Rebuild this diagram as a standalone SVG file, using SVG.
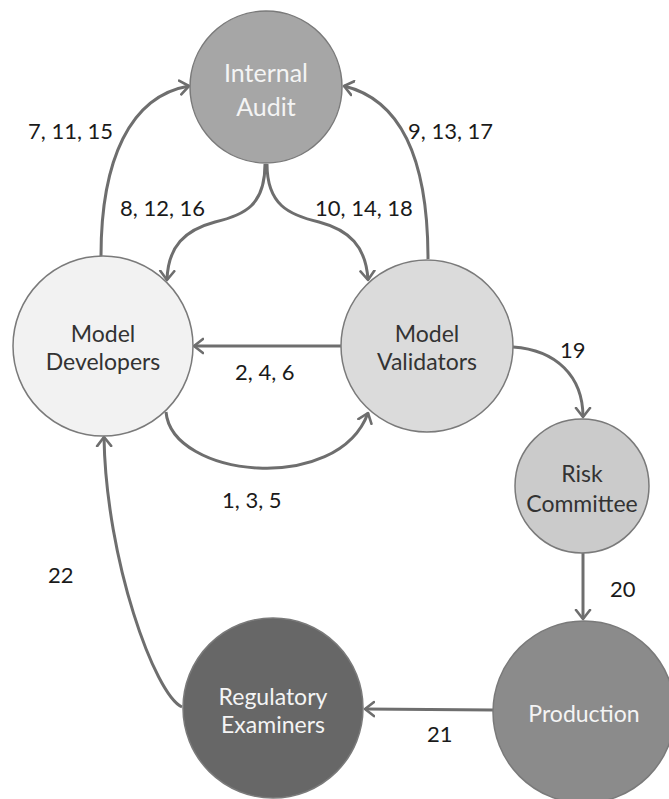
<svg xmlns="http://www.w3.org/2000/svg" width="669" height="799" viewBox="0 0 669 799">
  <style>
    .node { stroke: #7a7a7a; stroke-width: 1.5; }
    .ntext { font-family: Lato, "Open Sans", "Liberation Sans", sans-serif; font-size: 23px; text-anchor: middle; }
    .dark { fill: #333333; }
    .light { fill: #f4f4f4; }
    .edge { fill: none; stroke: #6e6e6e; stroke-width: 3; marker-end: url(#arrow); }
    .elabel { font-family: Lato, "Open Sans", "Liberation Sans", sans-serif; font-size: 22px; fill: #1a1a1a; }
  </style>
  <defs>
    <marker id="arrow" markerUnits="userSpaceOnUse" markerWidth="16" markerHeight="20" refX="10" refY="8" orient="auto" viewBox="0 0 16 16">
      <path d="M1,1 L10,8 L1,15" fill="none" stroke="#6e6e6e" stroke-width="2.6" stroke-linecap="round" stroke-linejoin="round"/>
    </marker>
  </defs>

  <g id="connectors">
    <!-- 7, 11, 15 : developers to audit -->
    <path class="edge" d="M101,256 C101,160 130,96 189,86"/>
    <!-- 8, 12, 16 : audit to developers -->
    <path class="edge" d="M265,164 C265,205 245,215 215,222 C185,230 168,246 167,280"/>
    <!-- 10, 14, 18 : audit to validators -->
    <path class="edge" d="M267,164 C267,205 289,215 319,222 C349,230 366,246 368,280"/>
    <!-- 9, 13, 17 : validators to audit -->
    <path class="edge" d="M428,259 C428,160 402,100 344,86"/>
    <!-- 2, 4, 6 : validators to developers -->
    <path class="edge" d="M341,346 L194,346"/>
    <!-- 1, 3, 5 : developers to validators -->
    <path class="edge" d="M166,412 C172,478 338,495 368,413"/>
    <!-- 19 : validators to risk committee -->
    <path class="edge" d="M513,347 C556,350 583,376 583,417"/>
    <!-- 20 : risk committee to production -->
    <path class="edge" d="M583,553 L583,619"/>
    <!-- 21 : production to regulators -->
    <path class="edge" d="M493,710 L365,709"/>
    <!-- 22 : regulators to developers -->
    <path class="edge" d="M182,707 C155,695 106,560 104,437"/>

    <text class="elabel" x="28" y="139">7, 11, 15</text>
    <text class="elabel" x="120" y="216">8, 12, 16</text>
    <text class="elabel" x="315" y="216">10, 14, 18</text>
    <text class="elabel" x="408" y="139">9, 13, 17</text>
    <text class="elabel" x="235" y="380">2, 4, 6</text>
    <text class="elabel" x="222" y="508">1, 3, 5</text>
    <text class="elabel" x="560" y="358">19</text>
    <text class="elabel" x="610" y="597">20</text>
    <text class="elabel" x="427" y="742">21</text>
    <text class="elabel" x="48" y="583">22</text>
  </g>

  <g id="internal-audit">
    <circle class="node" cx="266" cy="87" r="76" fill="#a6a6a6"/>
    <text class="ntext light" x="266" y="82" style="font-size:25px">Internal</text>
    <text class="ntext light" x="266" y="116" style="font-size:25px">Audit</text>
  </g>

  <g id="model-developers">
    <circle class="node" cx="103" cy="346" r="90" fill="#f2f2f2"/>
    <text class="ntext dark" x="103" y="342">Model</text>
    <text class="ntext dark" x="103" y="370">Developers</text>
  </g>

  <g id="model-validators">
    <circle class="node" cx="427" cy="346" r="86" fill="#dbdbdb"/>
    <text class="ntext dark" x="427" y="342">Model</text>
    <text class="ntext dark" x="427" y="370">Validators</text>
  </g>

  <g id="risk-committee">
    <circle class="node" cx="582" cy="486" r="67" fill="#cbcbcb"/>
    <text class="ntext dark" x="582" y="482">Risk</text>
    <text class="ntext dark" x="582" y="512">Committee</text>
  </g>

  <g id="production">
    <circle class="node" cx="584" cy="712" r="91" fill="#8b8b8b"/>
    <text class="ntext light" x="584" y="722">Production</text>
  </g>

  <g id="regulatory-examiners">
    <circle class="node" cx="273" cy="708" r="90" fill="#676767"/>
    <text class="ntext light" x="273" y="705">Regulatory</text>
    <text class="ntext light" x="273" y="733">Examiners</text>
  </g>
</svg>
